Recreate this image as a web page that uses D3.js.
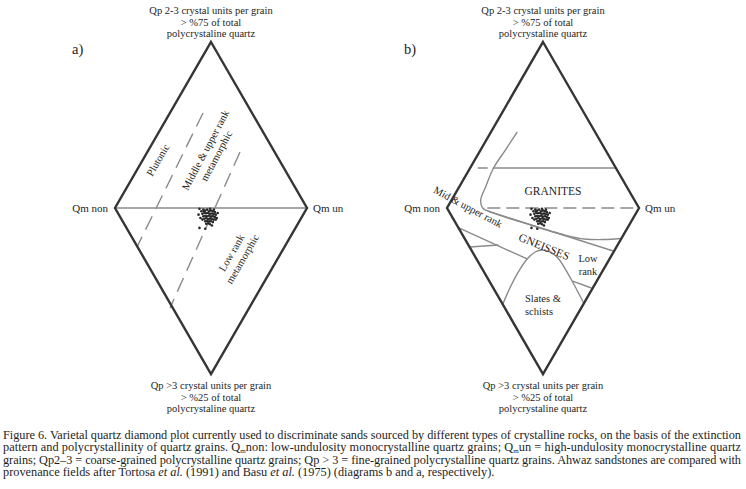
<!DOCTYPE html>
<html><head><meta charset="utf-8">
<script src="https://cdn.jsdelivr.net/npm/d3@7"></script>
<style>
html,body{margin:0;padding:0;background:#fff;}
svg{display:block;font-family:"Liberation Serif","Times New Roman",serif;}
</style></head>
<body>
<svg id="chart" width="746" height="489"></svg>
<script>
// ---- data (local diamond units: u = Qm non(-100) .. Qm un(+100), v = Qp>3(-100) .. Qp2-3(+100)) ----
const topLabel = ["Qp 2-3 crystal units per grain", "> %75 of total", "polycrystaline quartz"];
const bottomLabel = ["Qp >3 crystal units per grain", "> %25 of total", "polycrystaline quartz"];
const leftLabel = "Qm non";
const rightLabel = "Qm un";
const panelLetters = ["a)", "b)"];

// sample points (same sandstone data on both diagrams)
const samplesU = [-10,-8,-6,-4,-2,0,2,4,-9,-7,-5,-3,-1,1,3,5,-8,-6,-4,-2,0,2,4,-7,-5,-3,-1,1,3,-6,-4,-2,0,2,-5,-3,-1,-12,-11,7,6,-12,-6,-13,-9,-1,3,-7,1,5];
const samplesV = [-2,-1,-1.5,-1,-2,-1.5,-2,-2.5,-3.5,-3,-3.2,-3,-3.5,-3.3,-3.8,-4,-5,-4.8,-5,-4.6,-5.2,-5,-5.5,-6.5,-6.2,-6.6,-6.3,-6.8,-7,-8,-7.8,-8.2,-8,-8.5,-9.5,-9.2,-9.8,-0.5,-6,-3,-6,-12,-12.5,-4,-7,-0.5,-1,-2,-10.5,-7];

// diagram a) Basu et al. (1975) field boundaries
const aMid = [[-100,0],[100,0]];
const aDash1 = [[-8.3,57.2],[-77.1,-23.5]];
const aDash2 = [[30.2,33.7],[-42.7,-60.2]];

// diagram b) Tortosa et al. (1991) field boundaries
const bGraniteTop = [[-51.5,24.1],[75.9,24.1]];
const bGraniteTopDash = [[-68,24.1],[-51.5,24.1]];
const bMidDash = [[-58,0],[100,0]];
const bGraniteCurve = [[-26.8,45.8],[-39.2,34.9],[-51.5,24.1],[-59.8,12.7],[-64.9,4.8],[-62.9,0],[-57.7,-1.8],[-13.4,-10.2],[22.7,-16.3],[43.3,-18.7],[63.9,-19.0],[80.4,-18.4]];
const bGneissTop = [[-57.7,-1.8],[73.2,-25.9]];
const bGneissBottom = [[-87.6,-12.0],[-16.5,-30.7]];
const bLeftShort = [[-76.3,-23.5],[-46.4,-22.3]];
const bArch = [[-42.3,-58.4],[-34.0,-47.6],[-25.8,-38.6],[-16.5,-30.7],[-8.2,-26.5],[-1.0,-25.3],[7.2,-26.5],[15.5,-30.1],[23.7,-37.3],[32.0,-45.8],[42.3,-57.2]];
const bLowRankBottom = [[30.9,-44.0],[50.5,-48.2]];

const caption = [
  "Figure 6. Varietal quartz diamond plot currently used to discriminate sands sourced by different types of crystalline rocks, on the basis of the extinction",
  "pattern and polycrystallinity of quartz grains. Q|m|non: low-undulosity monocrystalline quartz grains; Q|m|un = high-undulosity monocrystalline quartz",
  "grains; Qp2\u20133 = coarse-grained polycrystalline quartz grains; Qp > 3 = fine-grained polycrystalline quartz grains. Ahwaz sandstones are compared with",
  "provenance fields after Tortosa ~et al.~ (1991) and Basu ~et al.~ (1975) (diagrams b and a, respectively)."
];

// ---- drawing ----
const svg = d3.select("#chart");
const edgeColor = "#353535", fieldColor = "#8a8a8a", textColor = "#1e1e1e";

function drawDiamond(cx, letterX, fields, labels) {
  const x = d3.scaleLinear().domain([-100,100]).range([cx-96, cx+96]);
  const y = d3.scaleLinear().domain([-100,100]).range([374, 42]);
  const g = svg.append("g");
  const line = d3.line().x(d=>x(d[0])).y(d=>y(d[1]));
  const curve = d3.line().x(d=>x(d[0])).y(d=>y(d[1])).curve(d3.curveCatmullRom.alpha(0.5));

  fields.forEach(f => {
    g.append("path").attr("d", (f.curve?curve:line)(f.pts))
      .attr("fill","none").attr("stroke",fieldColor).attr("stroke-width",1.4)
      .attr("stroke-dasharray", f.dash || null);
  });

  // outline
  g.append("path").attr("d", line([[0,100],[100,0],[0,-100],[-100,0]]) + "Z")
    .attr("fill","none").attr("stroke",edgeColor).attr("stroke-width",2.4).attr("stroke-linejoin","miter");

  // points
  g.selectAll("circle.s").data(d3.range(samplesU.length)).join("circle")
    .attr("cx", i=>x(samplesU[i])).attr("cy", i=>y(samplesV[i])).attr("r",1.3)
    .attr("fill","#2a2a2a");

  // vertex labels
  const t = g.append("text").attr("text-anchor","middle").attr("font-size",10.5).attr("fill",textColor);
  topLabel.forEach((s,i)=> t.append("tspan").attr("x", x(0)).attr("y", 14+i*11.5).text(s));
  const b = g.append("text").attr("text-anchor","middle").attr("font-size",10.5).attr("fill",textColor);
  bottomLabel.forEach((s,i)=> b.append("tspan").attr("x", x(0)).attr("y", 389+i*11.5).text(s));
  g.append("text").attr("x", x(-100)-7).attr("y", y(0)+4).attr("text-anchor","end")
    .attr("font-size",11).attr("fill",textColor).text(leftLabel);
  g.append("text").attr("x", x(100)+6).attr("y", y(0)+4).attr("text-anchor","start")
    .attr("font-size",11).attr("fill",textColor).text(rightLabel);
  g.append("text").attr("x", letterX).attr("y", 54).attr("font-size",14.5).attr("fill",textColor).text(labels.letter);

  labels.items.forEach(l => {
    const tx = g.append("text").attr("transform", `translate(${l.x},${l.y}) rotate(${l.rot||0})`)
      .attr("text-anchor", l.anchor || "middle").attr("font-size", l.size || 10.5).attr("fill", textColor);
    l.lines.forEach((s,i)=> tx.append("tspan").attr("x",0).attr("y", (i - (l.lines.length-1)/2)*l.lh + 3.5).text(s));
  });
}

drawDiamond(211, 72, [
  {pts:aMid},
  {pts:aDash1, dash:"15,8"},
  {pts:aDash2, dash:"15,8"}
], {letter: panelLetters[0], items: [
  {x:158, y:160, rot:-60, lines:["Plutonic"], lh:12},
  {x:211, y:153, rot:-62, lines:["Middle & upper rank","metamorphic"], lh:12.5},
  {x:237, y:256, rot:-60, lines:["Low rank","metamorphic"], lh:12.5}
]});

drawDiamond(543, 404, [
  {pts:bGraniteTop},
  {pts:bGraniteTopDash, dash:"10,5"},
  {pts:bMidDash, dash:"13,6"},
  {pts:bGraniteCurve, curve:true},
  {pts:bGneissTop},
  {pts:bGneissBottom},
  {pts:bLeftShort},
  {pts:bArch, curve:true},
  {pts:bLowRankBottom}
], {letter: panelLetters[1], items: [
  {x:553, y:191, lines:["GRANITES"], lh:12, size:11.5},
  {x:468, y:207, rot:28, lines:["Mid & upper rank"], lh:12, size:10.5},
  {x:544, y:247, rot:22, lines:["GNEISSES"], lh:12, size:11.5},
  {x:588, y:265, lines:["Low","rank"], lh:12.5},
  {x:525, y:305, anchor:"start", lines:["Slates &","schists"], lh:13}
]});

// caption
const cap = svg.append("g").attr("font-size",12.3).attr("fill",textColor);
caption.forEach((s,i) => {
  const tx = cap.append("text").attr("x",3).attr("y", 439 + i*12.4);
  if (i < 3) tx.attr("textLength", 738).attr("lengthAdjust","spacing");
  if (s.includes("|")) {
    const parts = s.split("|");
    parts.forEach((p,j) => {
      if (j % 2 === 1) tx.append("tspan").attr("font-size",7).attr("dy",1.5).text(p);
      else tx.append("tspan").attr("dy", j>0 ? -1.5 : 0).text(p);
    });
  } else if (s.includes("~")) {
    s.split("~").forEach((p,j) => {
      const ts = tx.append("tspan").text(p);
      if (j % 2 === 1) ts.attr("font-style","italic");
    });
  } else tx.text(s);
});
</script>
</body></html>
